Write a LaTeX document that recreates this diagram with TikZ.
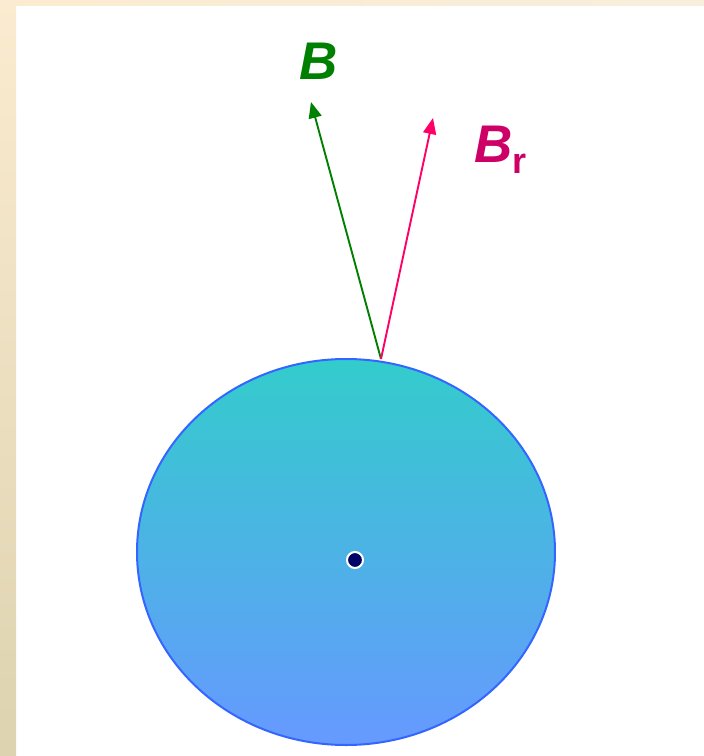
\documentclass[tikz,border=0pt]{standalone}
\usepackage{fontspec}
\setsansfont{Liberation Sans}
\usetikzlibrary{arrows.meta}
\definecolor{beigeA}{HTML}{FBEBD0}
\definecolor{beigeB}{HTML}{DDD3B0}
\definecolor{beigeC}{HTML}{F7EEDC}
\definecolor{ballTop}{HTML}{33CCCC}
\definecolor{ballBot}{HTML}{6699FF}
\definecolor{ballEdge}{HTML}{3366FF}
\definecolor{bGreen}{HTML}{008000}
\definecolor{brText}{HTML}{CC0066}
\definecolor{brLine}{HTML}{FF0066}
\definecolor{navy}{HTML}{000066}
\tikzset{
  vec/.style={line width=1.9pt, -{Triangle[length=16pt,width=13pt]}},
  lbl/.style={inner sep=0pt, font=\sffamily\bfseries\itshape\fontsize{53}{53}\selectfont},
}
\begin{document}
\begin{tikzpicture}[x=1pt,y=-1pt]
\useasboundingbox (0,0) rectangle (704,756);
\fill[white] (0,0) rectangle (704,756);
\shade[top color=beigeA, bottom color=beigeB] (0,0) rectangle (16,756);
\shade[left color=beigeA, right color=beigeC] (16,0) rectangle (704,5);
\shade[top color=ballTop, bottom color=ballBot, draw=ballEdge, line width=2pt] (346,552) ellipse [x radius=209, y radius=193];
\coordinate (o) at (381,359);
\coordinate (bt) at (311,102);
\coordinate (rt) at (433,118);
\draw[vec, bGreen] (o) -- (bt);
\draw[vec, brLine] (o) -- (rt);
\node[circle, fill=navy, draw=white, line width=2pt, minimum size=16pt, inner sep=0pt] (c) at (355,560) {};
\node[lbl, text=bGreen, anchor=center] (B) at (319,61) {B};
\node[lbl, text=brText, anchor=base west] (Br) at (474,162) {B\raisebox{-11pt}{\upshape\fontsize{36}{36}\selectfont r}};
\end{tikzpicture}
\end{document}
